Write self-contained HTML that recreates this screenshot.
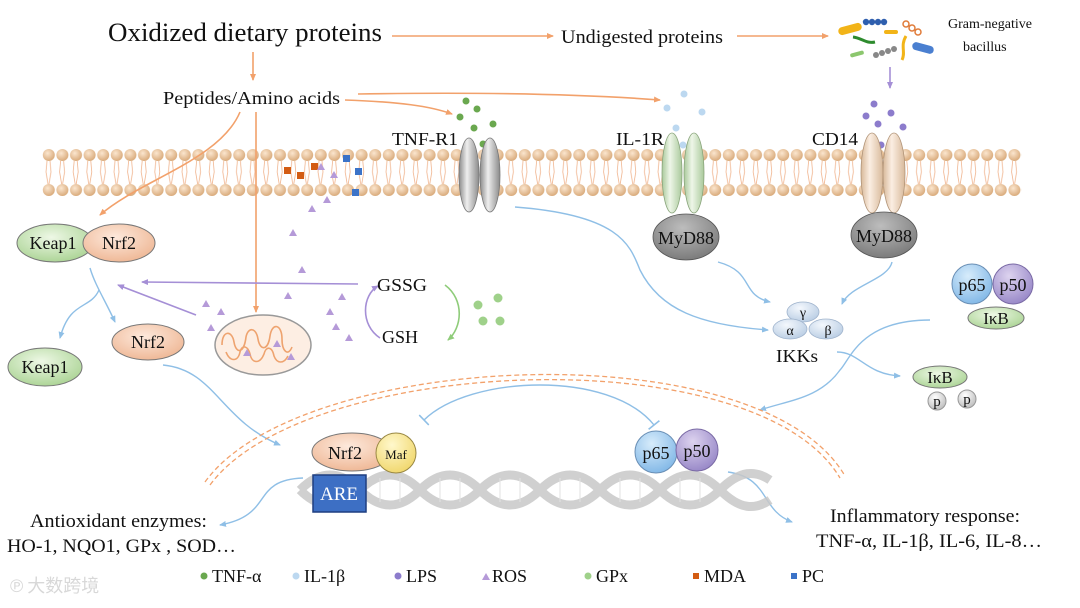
<!DOCTYPE html>
<html><head><meta charset="utf-8"><style>
html,body{margin:0;padding:0;background:#fff}
svg{display:block}
text{font-family:"Liberation Serif","Noto Serif CJK SC",serif;fill:#111}
</style></head><body>
<svg width="1080" height="608" viewBox="0 0 1080 608" xmlns="http://www.w3.org/2000/svg">
<defs>
<marker id="ao" markerWidth="8" markerHeight="8" refX="6" refY="3" orient="auto" markerUnits="userSpaceOnUse"><path d="M0,0 L7,3 L0,6 z" fill="#f2a16b"/></marker>
<marker id="ab" markerWidth="8" markerHeight="8" refX="6" refY="3" orient="auto" markerUnits="userSpaceOnUse"><path d="M0,0 L7,3 L0,6 z" fill="#8fbfe6"/></marker>
<marker id="ap" markerWidth="8" markerHeight="8" refX="6" refY="3" orient="auto" markerUnits="userSpaceOnUse"><path d="M0,0 L7,3 L0,6 z" fill="#a58fd6"/></marker>
<marker id="ag" markerWidth="8" markerHeight="8" refX="6" refY="3" orient="auto" markerUnits="userSpaceOnUse"><path d="M0,0 L7,3 L0,6 z" fill="#8fcc7a"/></marker>
<marker id="tb" markerWidth="4" markerHeight="14" refX="2" refY="7" orient="auto" markerUnits="userSpaceOnUse"><path d="M2,0 L2,14" stroke="#8fbfe6" stroke-width="1.6"/></marker>
<radialGradient id="head" cx="0.4" cy="0.35" r="0.7"><stop offset="0" stop-color="#fbe6cf"/><stop offset="1" stop-color="#d7a776"/></radialGradient>
<pattern id="mem" x="42" y="0" width="13.6" height="608" patternUnits="userSpaceOnUse">
<path d="M5,161 L4,172 L6,184 M8,161 L9,172 L7,184" stroke="#f0b48e" stroke-width="0.8" fill="none"/>
<circle cx="6.8" cy="155" r="6" fill="url(#head)"/>
<circle cx="6.8" cy="190" r="6" fill="url(#head)"/>
</pattern>
<linearGradient id="gray" x1="0" x2="1"><stop offset="0" stop-color="#8a8a8a"/><stop offset="0.4" stop-color="#eeeeee"/><stop offset="1" stop-color="#8a8a8a"/></linearGradient>
<linearGradient id="grn" x1="0" x2="1"><stop offset="0" stop-color="#a9c99b"/><stop offset="0.4" stop-color="#eef6e8"/><stop offset="1" stop-color="#a9c99b"/></linearGradient>
<linearGradient id="pch" x1="0" x2="1"><stop offset="0" stop-color="#d8b99a"/><stop offset="0.4" stop-color="#fbeee2"/><stop offset="1" stop-color="#d8b99a"/></linearGradient>
<radialGradient id="gE" cx="0.45" cy="0.35" r="0.7"><stop offset="0" stop-color="#eef8e6"/><stop offset="1" stop-color="#a8d291"/></radialGradient>
<radialGradient id="oE" cx="0.45" cy="0.35" r="0.7"><stop offset="0" stop-color="#fde9dc"/><stop offset="1" stop-color="#eeb592"/></radialGradient>
<radialGradient id="myd" cx="0.45" cy="0.3" r="0.75"><stop offset="0" stop-color="#bdbdbd"/><stop offset="1" stop-color="#777"/></radialGradient>
<radialGradient id="bE" cx="0.4" cy="0.3" r="0.75"><stop offset="0" stop-color="#d7ecfb"/><stop offset="1" stop-color="#7fb6e6"/></radialGradient>
<radialGradient id="pE" cx="0.4" cy="0.3" r="0.75"><stop offset="0" stop-color="#ddd3ef"/><stop offset="1" stop-color="#9585c6"/></radialGradient>
<radialGradient id="yE" cx="0.4" cy="0.3" r="0.75"><stop offset="0" stop-color="#fff8cc"/><stop offset="1" stop-color="#f0d66a"/></radialGradient>
<radialGradient id="ikk" cx="0.4" cy="0.3" r="0.75"><stop offset="0" stop-color="#f4f8fd"/><stop offset="1" stop-color="#b8cce3"/></radialGradient>
<radialGradient id="wE" cx="0.4" cy="0.3" r="0.75"><stop offset="0" stop-color="#fff"/><stop offset="1" stop-color="#bbb"/></radialGradient>
</defs>

<rect x="42" y="145" width="980" height="55" fill="url(#mem)"/>

<text x="108" y="41" font-size="26.5" textLength="274" lengthAdjust="spacingAndGlyphs">Oxidized dietary proteins</text>
<text x="561" y="43" font-size="19" textLength="162" lengthAdjust="spacingAndGlyphs">Undigested proteins</text>
<text x="948" y="28" font-size="14">Gram-negative</text>
<text x="963" y="51" font-size="14">bacillus</text>
<text x="163" y="104" font-size="18" textLength="177" lengthAdjust="spacingAndGlyphs">Peptides/Amino acids</text>

<g stroke="#f2a16b" stroke-width="1.6" fill="none">
<path d="M392,36 L553,36" marker-end="url(#ao)"/>
<path d="M737,36 L828,36" marker-end="url(#ao)"/>
<path d="M253,52 L253,80" marker-end="url(#ao)"/>
<path d="M358,94 C480,92 580,94 660,100" marker-end="url(#ao)"/>
<path d="M345,100 C400,102 430,106 452,114" marker-end="url(#ao)"/>
<path d="M240,112 C220,160 140,180 100,215" marker-end="url(#ao)"/>
<path d="M256,112 L256,312" marker-end="url(#ao)"/>
</g>

<g>
<rect x="838" y="25" width="24" height="8" rx="4" fill="#f2b418" transform="rotate(-15 850 29)"/>
<g fill="#2f5fae"><circle cx="866" cy="22" r="3.2"/><circle cx="872" cy="22" r="3.2"/><circle cx="878" cy="22" r="3.2"/><circle cx="884" cy="22" r="3.2"/></g>
<rect x="884" y="30" width="14" height="4" rx="2" fill="#f2b418"/>
<g fill="none" stroke="#e07b39" stroke-width="1.5"><circle cx="906" cy="24" r="3"/><circle cx="912" cy="28" r="3"/><circle cx="918" cy="32" r="3"/></g>
<path d="M853,37 C862,38 866,44 875,42" stroke="#2e8b2e" stroke-width="3" fill="none"/>
<rect x="850" y="52" width="14" height="4" rx="2" fill="#8cc76e" transform="rotate(-15 857 54)"/>
<g fill="#888"><circle cx="876" cy="55" r="3"/><circle cx="882" cy="53" r="3"/><circle cx="888" cy="51" r="3"/><circle cx="894" cy="49" r="3"/></g>
<path d="M906,36 C900,46 906,52 902,60" stroke="#f2b418" stroke-width="3" fill="none"/>
<rect x="912" y="44" width="22" height="8" rx="4" fill="#4a7fd0" transform="rotate(15 923 48)"/>
</g>
<path d="M890,67 L890,88" stroke="#a58fd6" stroke-width="1.6" marker-end="url(#ap)"/>

<g fill="#6aa84f"><circle cx="466" cy="101" r="3.5"/><circle cx="477" cy="109" r="3.5"/><circle cx="493" cy="124" r="3.5"/><circle cx="474" cy="128" r="3.5"/><circle cx="483" cy="144" r="3.5"/><circle cx="460" cy="117" r="3.5"/></g>
<g fill="#bcd8f0"><circle cx="684" cy="94" r="3.5"/><circle cx="667" cy="108" r="3.5"/><circle cx="702" cy="112" r="3.5"/><circle cx="676" cy="128" r="3.5"/><circle cx="683" cy="145" r="3.5"/></g>
<g fill="#8c7ccc"><circle cx="874" cy="104" r="3.5"/><circle cx="866" cy="116" r="3.5"/><circle cx="891" cy="113" r="3.5"/><circle cx="878" cy="124" r="3.5"/><circle cx="903" cy="127" r="3.5"/><circle cx="881" cy="145" r="3.5"/></g>

<text x="392" y="145" font-size="18" textLength="66" lengthAdjust="spacingAndGlyphs">TNF-R1</text>
<ellipse cx="469" cy="175" rx="10" ry="37" fill="url(#gray)" stroke="#777" stroke-width="0.8"/>
<ellipse cx="490" cy="175" rx="10" ry="37" fill="url(#gray)" stroke="#777" stroke-width="0.8"/>
<text x="616" y="145" font-size="18" textLength="48" lengthAdjust="spacingAndGlyphs">IL-1R</text>
<ellipse cx="672" cy="173" rx="10" ry="40" fill="url(#grn)" stroke="#8aa57c" stroke-width="0.8"/>
<ellipse cx="694" cy="173" rx="10" ry="40" fill="url(#grn)" stroke="#8aa57c" stroke-width="0.8"/>
<ellipse cx="686" cy="237" rx="33" ry="23" fill="url(#myd)" stroke="#555" stroke-width="0.8"/>
<text x="686" y="244" font-size="18" text-anchor="middle">MyD88</text>
<text x="812" y="145" font-size="18" textLength="46" lengthAdjust="spacingAndGlyphs">CD14</text>
<ellipse cx="872" cy="173" rx="11" ry="40" fill="url(#pch)" stroke="#b19478" stroke-width="0.8"/>
<ellipse cx="894" cy="173" rx="11" ry="40" fill="url(#pch)" stroke="#b19478" stroke-width="0.8"/>
<ellipse cx="884" cy="235" rx="33" ry="23" fill="url(#myd)" stroke="#555" stroke-width="0.8"/>
<text x="884" y="242" font-size="18" text-anchor="middle">MyD88</text>

<g fill="#d35c13"><rect x="284" y="167" width="7" height="7"/><rect x="297" y="172" width="7" height="7"/><rect x="311" y="163" width="7" height="7"/></g>
<g fill="#3b73c8"><rect x="343" y="155" width="7" height="7"/><rect x="355" y="168" width="7" height="7"/><rect x="352" y="189" width="7" height="7"/></g>

<g fill="#b59ad8">
<path d="M317,170 l4,-7 l4,7z"/><path d="M330,178 l4,-7 l4,7z"/><path d="M323,203 l4,-7 l4,7z"/><path d="M308,212 l4,-7 l4,7z"/>
<path d="M289,236 l4,-7 l4,7z"/><path d="M298,273 l4,-7 l4,7z"/><path d="M284,299 l4,-7 l4,7z"/><path d="M338,300 l4,-7 l4,7z"/>
<path d="M326,315 l4,-7 l4,7z"/><path d="M332,330 l4,-7 l4,7z"/><path d="M345,341 l4,-7 l4,7z"/>
<path d="M202,307 l4,-7 l4,7z"/><path d="M217,315 l4,-7 l4,7z"/><path d="M207,331 l4,-7 l4,7z"/>
</g>
<g stroke="#a58fd6" stroke-width="1.6" fill="none">
<path d="M358,284 L142,282" marker-end="url(#ap)"/>
<path d="M196,315 L118,285" marker-end="url(#ap)"/>
<path d="M380,338 C360,325 362,295 378,286" marker-end="url(#ap)"/>
</g>
<path d="M445,285 C465,300 462,328 448,340" stroke="#8fcc7a" stroke-width="1.6" fill="none" marker-end="url(#ag)"/>
<text x="377" y="291" font-size="18" textLength="50" lengthAdjust="spacingAndGlyphs">GSSG</text>
<text x="382" y="343" font-size="18">GSH</text>
<g fill="#9fd18a"><circle cx="478" cy="305" r="4.5"/><circle cx="498" cy="298" r="4.5"/><circle cx="483" cy="321" r="4.5"/><circle cx="500" cy="321" r="4.5"/></g>

<ellipse cx="263" cy="345" rx="48" ry="30" fill="#fdeee3" stroke="#999" stroke-width="1.5"/>
<path d="M222,345 c0,-15 10,-15 12,-3 c2,12 10,12 12,-5 c2,-10 10,-10 12,2 c2,12 10,12 12,-3 c2,-14 12,-12 12,3 c0,12 6,18 10,8 M226,352 c4,10 12,10 14,0 c2,-8 8,-6 10,2 c2,10 10,10 14,0 c2,-8 8,-8 10,2 c3,8 10,8 14,0" stroke="#eea36f" stroke-width="1.6" fill="none"/>
<g fill="#b59ad8"><path d="M243,356 l4,-7 l4,7z"/><path d="M273,347 l4,-7 l4,7z"/><path d="M287,360 l4,-7 l4,7z"/></g>

<ellipse cx="55" cy="243" rx="38" ry="19" fill="url(#gE)" stroke="#777" stroke-width="1"/>
<text x="53" y="249" font-size="18" text-anchor="middle">Keap1</text>
<ellipse cx="119" cy="243" rx="36" ry="19" fill="url(#oE)" stroke="#777" stroke-width="1"/>
<text x="119" y="249" font-size="18" text-anchor="middle">Nrf2</text>
<g stroke="#8fbfe6" stroke-width="1.4" fill="none">
<path d="M90,268 C95,285 105,300 115,322" marker-end="url(#ab)"/>
<path d="M99,290 C90,310 70,300 60,338" marker-end="url(#ab)"/>
</g>
<ellipse cx="45" cy="367" rx="37" ry="19" fill="url(#gE)" stroke="#777" stroke-width="1"/>
<text x="45" y="373" font-size="18" text-anchor="middle">Keap1</text>
<ellipse cx="148" cy="342" rx="36" ry="18" fill="url(#oE)" stroke="#777" stroke-width="1"/>
<text x="148" y="348" font-size="18" text-anchor="middle">Nrf2</text>

<g stroke="#8fbfe6" stroke-width="1.4" fill="none">
<path d="M163,365 C215,370 220,420 280,445" marker-end="url(#ab)"/>
<path d="M515,207 C620,215 630,245 640,270 C660,310 700,325 768,330" marker-end="url(#ab)"/>
<path d="M718,262 C755,272 740,295 770,302" marker-end="url(#ab)"/>
<path d="M892,262 C888,280 850,285 842,304" marker-end="url(#ab)"/>
<path d="M930,320 C860,320 850,360 840,370 C820,398 790,400 760,410" marker-end="url(#ab)"/>
<path d="M837,352 C860,352 865,374 900,376" marker-end="url(#ab)"/>
<path d="M303,478 C250,480 275,515 220,525" marker-end="url(#ab)"/>
<path d="M728,472 C770,478 760,510 792,522" marker-end="url(#ab)"/>
<path d="M424,420 C470,375 610,370 654,425" marker-start="url(#tb)" marker-end="url(#tb)"/>
</g>

<path d="M205,482 C300,350 760,330 845,476" stroke="#f2a16b" stroke-width="1.3" fill="none" stroke-dasharray="5,3"/>
<path d="M210,485 C305,356 756,336 840,478" stroke="#f2a16b" stroke-width="1.3" fill="none" stroke-dasharray="5,3"/>

<ellipse cx="803" cy="312" rx="16" ry="10" fill="url(#ikk)" stroke="#9fb3cc" stroke-width="0.8"/>
<ellipse cx="790" cy="329" rx="17" ry="10" fill="url(#ikk)" stroke="#9fb3cc" stroke-width="0.8"/>
<ellipse cx="826" cy="329" rx="17" ry="10" fill="url(#ikk)" stroke="#9fb3cc" stroke-width="0.8"/>
<text x="803" y="317" font-size="14" text-anchor="middle">γ</text>
<text x="790" y="335" font-size="14" text-anchor="middle">α</text>
<text x="828" y="335" font-size="14" text-anchor="middle">β</text>
<text x="776" y="362" font-size="18" textLength="42" lengthAdjust="spacingAndGlyphs">IKKs</text>

<circle cx="972" cy="284" r="20" fill="url(#bE)" stroke="#6a8fb5"/>
<circle cx="1013" cy="284" r="20" fill="url(#pE)" stroke="#7a6aa5"/>
<text x="972" y="291" font-size="18" text-anchor="middle">p65</text>
<text x="1013" y="291" font-size="18" text-anchor="middle">p50</text>
<ellipse cx="996" cy="318" rx="28" ry="11" fill="url(#gE)" stroke="#777"/>
<text x="996" y="324" font-size="17" text-anchor="middle">IκB</text>
<ellipse cx="940" cy="377" rx="27" ry="11" fill="url(#gE)" stroke="#777"/>
<text x="940" y="383" font-size="17" text-anchor="middle">IκB</text>
<circle cx="937" cy="401" r="9" fill="url(#wE)" stroke="#999"/>
<circle cx="967" cy="399" r="9" fill="url(#wE)" stroke="#999"/>
<text x="937" y="406" font-size="15" text-anchor="middle">p</text>
<text x="967" y="404" font-size="15" text-anchor="middle">p</text>

<g fill="none" stroke="#c8c8c8" stroke-width="9" opacity="0.85">
<path d="M300,490 C320,470 340,470 360,490 S400,510 420,490 S460,470 480,490 S520,510 540,490 S580,470 600,490 S640,510 660,490 S700,470 720,490 S755,510 770,500"/>
<path d="M300,490 C320,510 340,510 360,490 S400,470 420,490 S460,510 480,490 S520,470 540,490 S580,510 600,490 S640,470 660,490 S700,510 720,490 S755,470 770,480"/>
</g>
<g stroke="#e2e2e2" stroke-width="1">
<path d="M380,478 L380,502 M400,478 L400,502 M440,478 L440,502 M460,478 L460,502 M500,478 L500,502 M520,478 L520,502 M560,478 L560,502 M580,478 L580,502 M620,478 L620,502 M640,478 L640,502 M680,478 L680,502 M700,478 L700,502"/>
</g>
<rect x="313" y="475" width="53" height="37" fill="#3d6fc4" stroke="#1f3f80" stroke-width="1.5"/>
<text x="339" y="500" font-size="19" text-anchor="middle" style="fill:#fff">ARE</text>
<ellipse cx="352" cy="452" rx="40" ry="19" fill="url(#oE)" stroke="#777"/>
<text x="345" y="459" font-size="18" text-anchor="middle">Nrf2</text>
<circle cx="396" cy="453" r="20" fill="url(#yE)" stroke="#998844"/>
<text x="396" y="459" font-size="13" text-anchor="middle">Maf</text>
<circle cx="656" cy="452" r="21" fill="url(#bE)" stroke="#6a8fb5"/>
<circle cx="697" cy="450" r="21" fill="url(#pE)" stroke="#7a6aa5"/>
<text x="656" y="459" font-size="18" text-anchor="middle">p65</text>
<text x="697" y="457" font-size="18" text-anchor="middle">p50</text>

<text x="30" y="527" font-size="18.5" textLength="177" lengthAdjust="spacingAndGlyphs">Antioxidant enzymes:</text>
<text x="7" y="552" font-size="18.5" textLength="229" lengthAdjust="spacingAndGlyphs">HO-1, NQO1, GPx , SOD…</text>
<text x="830" y="522" font-size="18.5" textLength="190" lengthAdjust="spacingAndGlyphs">Inflammatory response:</text>
<text x="816" y="547" font-size="18.5" textLength="226" lengthAdjust="spacingAndGlyphs">TNF-α, IL-1β, IL-6, IL-8…</text>

<circle cx="204" cy="576" r="3.5" fill="#6aa84f"/><text x="212" y="582" font-size="18">TNF-α</text>
<circle cx="296" cy="576" r="3.5" fill="#bcd8f0"/><text x="304" y="582" font-size="18">IL-1β</text>
<circle cx="398" cy="576" r="3.5" fill="#8c7ccc"/><text x="406" y="582" font-size="18">LPS</text>
<path d="M482,580 l4,-7 l4,7z" fill="#b59ad8"/><text x="492" y="582" font-size="18">ROS</text>
<circle cx="588" cy="576" r="3.5" fill="#9fd18a"/><text x="596" y="582" font-size="18">GPx</text>
<rect x="693" y="573" width="6" height="6" fill="#d35c13"/><text x="704" y="582" font-size="18">MDA</text>
<rect x="791" y="573" width="6" height="6" fill="#3b73c8"/><text x="802" y="582" font-size="18">PC</text>

<text x="10" y="592" font-size="18" style="fill:#d8d8d8;font-family:'Noto Sans CJK SC',sans-serif">℗ 大数跨境</text>
</svg>
</body></html>
